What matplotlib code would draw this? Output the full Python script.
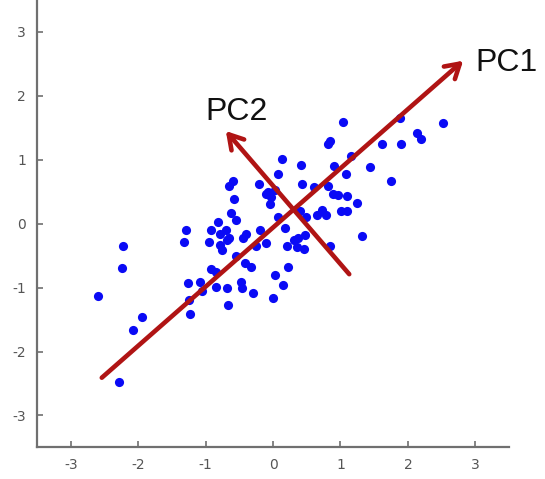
import numpy as np
import matplotlib.pyplot as plt

plt.rcParams['axes.unicode_minus'] = False

# scatter data
x = [-2.60, -2.22, -2.24, -2.08, -1.95, -2.28, -1.29, -1.32, -1.26, -1.24,
     -1.23, -1.09, -1.05, -0.92, -0.95, -0.92, -0.85, -0.84, -0.81, -0.78,
     -0.79, -0.75, -0.70, -0.69, -0.66, -0.68, -0.67, -0.65, -0.60, -0.63,
     -0.58, -0.55, -0.48, -0.46, -0.44, -0.40, -0.41, -0.33, -0.30, -0.26,
     -0.20, -0.21, -0.11, -0.08, -0.05, -0.03, 0.03, 0.00, 0.03, 0.07,
     0.08, 0.14, 0.17, 0.15, 0.21, 0.22, 0.31, 0.35, 0.37, 0.42,
     0.43, 0.46, 0.47, 0.49, 0.61, 0.65, 0.72, 0.78, 0.81, 0.84,
     0.82, 0.85, 0.89, 0.91, 0.97, 1.04, 1.01, 1.09, 1.08, 1.10,
     1.15, 1.24, 1.32, 1.44, 1.62, 1.75, 1.88, 1.90, 2.14, 2.19,
     2.52, -0.55, 0.40, -0.10]
y = [-1.13, -0.35, -0.70, -1.66, -1.46, -2.47, -0.10, -0.29, -0.93, -1.19,
     -1.42, -0.91, -1.05, -0.10, -0.29, -0.71, -0.75, -0.99, 0.03, -0.16,
     -0.34, -0.41, -0.10, -0.26, -0.23, -1.01, -1.27, 0.59, 0.67, 0.17,
     0.39, 0.05, -0.92, -1.01, -0.23, -0.16, -0.62, -0.67, -1.09, -0.35,
     -0.10, 0.62, 0.47, 0.49, 0.31, 0.41, 0.52, -1.17, -0.80, 0.10,
     0.78, 1.01, -0.07, -0.96, -0.35, -0.67, -0.26, -0.36, -0.23, 0.92,
     0.62, -0.39, -0.18, 0.11, 0.57, 0.14, 0.21, 0.14, 1.25, 1.29,
     0.59, -0.35, 0.47, 0.91, 0.45, 1.59, 0.20, 0.20, 0.78, 0.43,
     1.06, 0.32, -0.19, 0.89, 1.24, 0.67, 1.65, 1.24, 1.42, 1.32,
     1.57, -0.50, 0.20, -0.30]

# principal axes (tail, head) and their labels
pc1 = [(-2.54, -2.41), (2.82, 2.55)]
pc2 = [(1.13, -0.79), (-0.70, 1.45)]
labels = ['PC1', 'PC2']
label_pos = [(3.0, 2.52), (-1.0, 1.74)]

fig = plt.figure(figsize=(5.45, 4.79), dpi=100)
ax = fig.add_axes([0.068, 0.066, 0.866, 0.934])

ax.plot(x, y, 'o', color='#0a0af5', ms=6.6, mec='none')

red = '#b01414'
for tail, head in (pc1, pc2):
    ax.annotate('', xy=head, xytext=tail,
                arrowprops=dict(arrowstyle='->,head_length=1.0,head_width=0.6',
                                color=red, lw=3.3, shrinkA=0, shrinkB=0))
for lab, pos in zip(labels, label_pos):
    ax.text(pos[0], pos[1], lab, fontsize=23, family='Liberation Sans',
            color='#111111', ha='left', va='center')

ax.set_xlim(-3.5, 3.5)
ax.set_ylim(-3.5, 3.5)
ax.set_xticks(range(-3, 4))
ax.set_yticks(range(-3, 4))
ax.spines['top'].set_visible(False)
ax.spines['right'].set_visible(False)
for s in ('left', 'bottom'):
    ax.spines[s].set_color('#707070')
    ax.spines[s].set_linewidth(1.6)
ax.tick_params(direction='in', length=4, width=1.2, color='#707070',
               labelcolor='#555555', labelsize=10, pad=8)

fig.savefig('out.png', dpi=100)
